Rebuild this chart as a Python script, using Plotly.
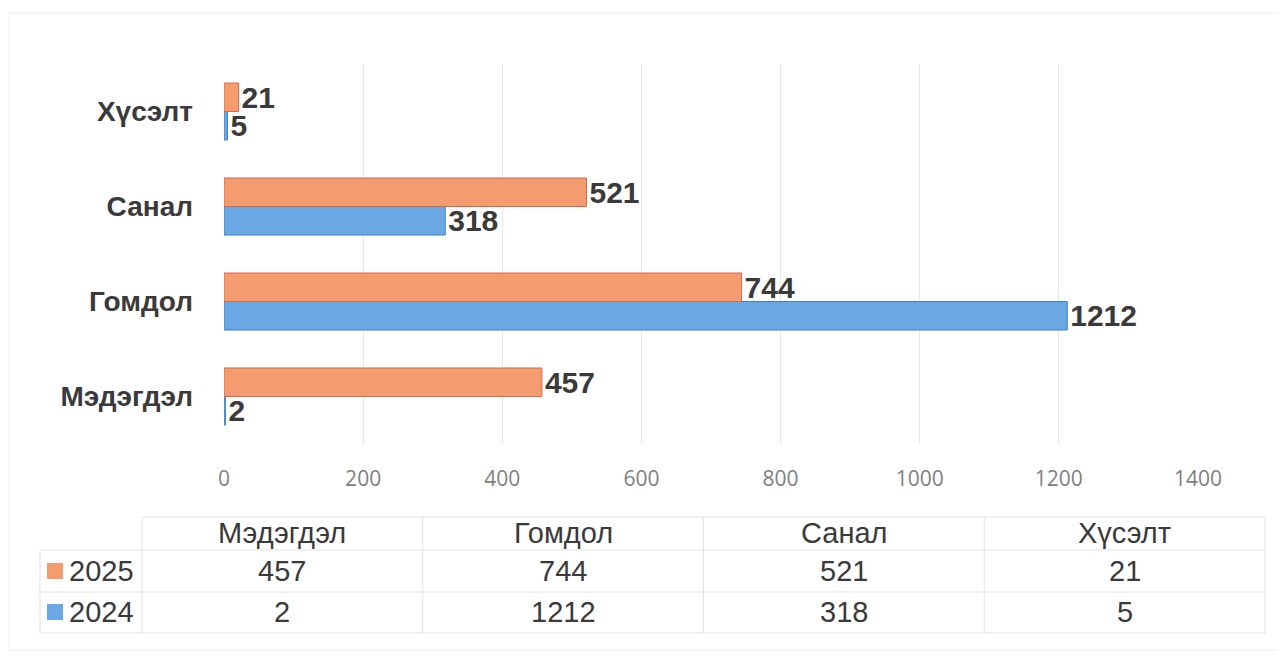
import plotly.graph_objects as go

# ---------------- data ----------------
categories = ["Мэдэгдэл", "Гомдол", "Санал", "Хүсэлт"]
series_names = ["2025", "2024"]
values_2025 = [457, 744, 521, 21]
values_2024 = [2, 1212, 318, 5]
x_ticks = [0, 200, 400, 600, 800, 1000, 1200, 1400]

# ---------------- style ----------------
OFF = 8  # page body margin
W, H = 1285 - OFF, 659 - OFF
ORANGE = "#F39C70"
ORANGE_DK = "#D8694B"
BLUE = "#6AA8E4"
BLUE_DK = "#3F7FC2"
TXT = "#3A3A3A"
GRID = "#E8E8E8"
FONT = "Liberation Sans, Arial, sans-serif"

# target pixel positions in the screenshot
PL, PR, PT, PB = 224, 1198, 64, 444
L = PL - OFF
R = W - (PR - OFF)
T = PT - OFF
B = H - (PB - OFF)
PW = PR - PL
PH = PB - PT


def px(x):
    return (x - PL) / PW


def py(y):
    return (PB - y) / PH


fig = go.Figure()
fig.add_trace(go.Bar(
    name=series_names[1], y=categories, x=values_2024, orientation="h",
    marker=dict(color=BLUE, line=dict(color=BLUE_DK, width=1)),
    text=[str(v) for v in values_2024], textposition="outside",
    textfont=dict(family=FONT, size=30, color=TXT, weight="bold"),
    constraintext="none", cliponaxis=False,
))
fig.add_trace(go.Bar(
    name=series_names[0], y=categories, x=values_2025, orientation="h",
    marker=dict(color=ORANGE, line=dict(color=ORANGE_DK, width=1)),
    text=[str(v) for v in values_2025], textposition="outside",
    textfont=dict(family=FONT, size=30, color=TXT, weight="bold"),
    constraintext="none", cliponaxis=False,
))

shapes = []
annotations = []
line_style = dict(color="#E3E3E3", width=1)

# faint outer chart border
shapes.append(dict(type="rect", xref="paper", yref="paper", x0=px(9), x1=px(1278),
                   y0=py(650), y1=py(13), line=dict(color="#EDEDED", width=1),
                   fillcolor="rgba(0,0,0,0)", layer="below"))

# horizontal table lines
shapes.append(dict(type="line", xref="paper", yref="paper",
                   x0=px(142), x1=px(1265), y0=py(517), y1=py(517), line=line_style))
for yy in (550, 592, 633):
    shapes.append(dict(type="line", xref="paper", yref="paper",
                       x0=px(40), x1=px(1265), y0=py(yy), y1=py(yy), line=line_style))
# vertical table lines
shapes.append(dict(type="line", xref="paper", yref="paper",
                   x0=px(40), x1=px(40), y0=py(550), y1=py(633), line=line_style))
col_edges = [142 + i * (1265 - 142) / len(categories) for i in range(len(categories) + 1)]
for xx in col_edges:
    shapes.append(dict(type="line", xref="paper", yref="paper",
                       x0=px(xx), x1=px(xx), y0=py(517), y1=py(633), line=line_style))

# table text
TFS = 29
row_y = {"head": 533, "2025": 571, "2024": 612}
for i, c in enumerate(categories):
    cx = (col_edges[i] + col_edges[i + 1]) / 2
    annotations.append(dict(xref="paper", yref="paper", x=px(cx), y=py(row_y["head"]),
                            text=c, showarrow=False, xanchor="center", yanchor="middle",
                            font=dict(family=FONT, size=TFS, color=TXT)))
    annotations.append(dict(xref="paper", yref="paper", x=px(cx), y=py(row_y["2025"]),
                            text=str(values_2025[i]), showarrow=False, xanchor="center",
                            yanchor="middle", font=dict(family=FONT, size=TFS, color=TXT)))
    annotations.append(dict(xref="paper", yref="paper", x=px(cx), y=py(row_y["2024"]),
                            text=str(values_2024[i]), showarrow=False, xanchor="center",
                            yanchor="middle", font=dict(family=FONT, size=TFS, color=TXT)))

# legend keys in table
for name, col in ((series_names[0], ORANGE), (series_names[1], BLUE)):
    yc = row_y[name]
    shapes.append(dict(type="rect", xref="paper", yref="paper", x0=px(47), x1=px(63),
                       y0=py(yc + 8), y1=py(yc - 8), fillcolor=col, line=dict(width=0)))
    annotations.append(dict(xref="paper", yref="paper", x=px(67), y=py(yc), text=name,
                            showarrow=False, xanchor="left", yanchor="middle",
                            font=dict(family=FONT, size=TFS, color=TXT)))

fig.update_layout(
    width=W, height=H,
    margin=dict(l=L, r=R, t=T, b=B, pad=0),
    paper_bgcolor="white", plot_bgcolor="white",
    barmode="group", bargap=0.40, bargroupgap=0,
    showlegend=False,
    shapes=shapes, annotations=annotations,
    xaxis=dict(range=[0, 1400], tickvals=x_ticks, showgrid=True, gridcolor=GRID,
               gridwidth=1, zeroline=False, showline=False, ticks="",
               tickfont=dict(family="Open Sans, sans-serif", size=21, color="#808080"),
               ticklabelstandoff=20, fixedrange=True),
    yaxis=dict(categoryorder="array", categoryarray=categories, range=[-0.5, 3.5],
               showgrid=False, zeroline=False, showline=False, ticks="",
               tickfont=dict(family=FONT, size=28, color=TXT, weight="bold"),
               ticklabelstandoff=30, fixedrange=True),
)

fig.write_html("out.html")
